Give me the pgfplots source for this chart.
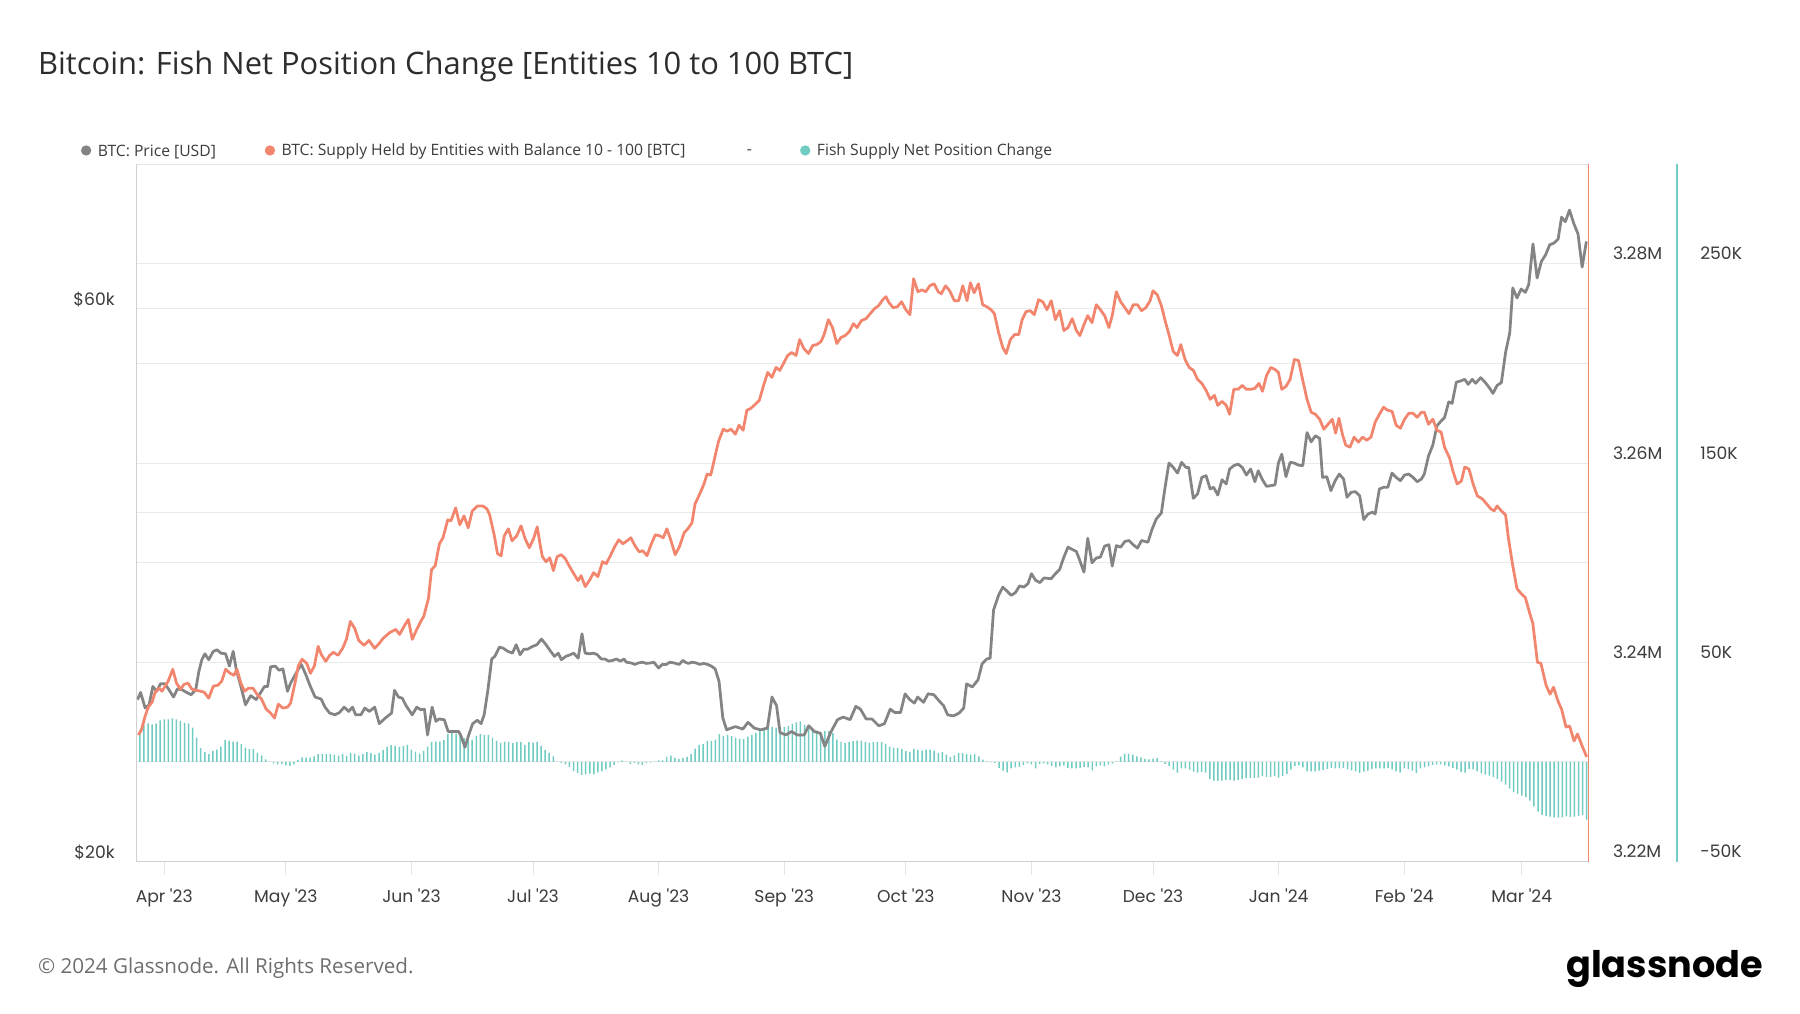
\documentclass[border=0pt]{standalone}
\usepackage{fontspec}
\setmainfont{Open Sans}
\newfontfamily\tickfont{Poppins}
\newfontfamily\logofont{Poppins}
\usepackage{pgfplots}
\pgfplotsset{compat=1.18}
\definecolor{pricegray}{RGB}{132,132,132}
\definecolor{supplyorange}{RGB}{242,133,110}
\definecolor{fishteal}{RGB}{112,204,194}
\definecolor{gridcol}{RGB}{234,234,234}
\definecolor{bordercol}{RGB}{208,208,208}
\definecolor{topcol}{RGB}{228,228,228}
\definecolor{titlecol}{RGB}{45,45,45}
\definecolor{tickcol}{RGB}{60,60,60}
\definecolor{footcol}{RGB}{110,110,110}
\pgfplotsset{
  base/.style={scale only axis, width=1264bp, height=607bp, xmin=-6.8, xmax=351.5,
    at={(119bp,132bp)}, anchor=south west, axis line style={draw=none}},
  tickfnt/.style={font=\tickfont\fontsize{15}{18}\selectfont, text=tickcol, inner sep=0pt},
}
\begin{document}
\begin{tikzpicture}[x=1bp,y=1bp]
\path[use as bounding box, fill=white] (0,0) rectangle (1567,882);
\node[anchor=base west, inner sep=0, text=titlecol, font=\fontsize{27}{32}\selectfont] at (33,817) {Bitcoin: Fish Net Position Change [Entities 10 to 100 BTC]};
% legend
\fill[pricegray] (75,751) circle (4.5);
\node[anchor=west, inner sep=0, text=tickcol, font=\fontsize{13.7}{16}\selectfont] at (85,750) {BTC: Price [USD]};
\fill[supplyorange] (235,751) circle (4.5);
\node[anchor=west, inner sep=0, text=tickcol, font=\fontsize{13.7}{16}\selectfont] at (245,750) {BTC: Supply Held by Entities with Balance 10 - 100 [BTC]};
\node[anchor=west, inner sep=0, text=tickcol, font=\fontsize{13.7}{16}\selectfont] at (650,750) {-};
\fill[fishteal] (701,751) circle (4.5);
\node[anchor=west, inner sep=0, text=tickcol, font=\fontsize{13.7}{16}\selectfont] at (711,750) {Fish Supply Net Position Change};

% supply grid and labels
\begin{axis}[base, ymin=3.22, ymax=3.29,
  ytick={3.22,3.23,3.24,3.25,3.26,3.27,3.28},
  yticklabels={3.22M,,3.24M,,3.26M,,3.28M},
  ymajorgrids, grid style={gridcol, line width=1bp},
  xtick=\empty, yticklabel pos=right, ytick style={draw=none},
  yticklabel style={tickfnt, anchor=west, xshift=21bp, yshift=9bp}]
\end{axis}

% price grid, labels, x axis
\begin{axis}[base, ymode=log, ymin=20000, ymax=80000,
  ytick={20000,40000,60000}, yticklabels={\$20k,,\$60k},
  ymajorgrids, grid style={gridcol, line width=1bp},
  ytick style={draw=none},
  yticklabel style={tickfnt, anchor=east, xshift=-19bp, yshift=8bp},
  xtick={0,30,61,91,122,153,183,214,244,275,306,335},
  xticklabels={Apr \textquotesingle23,May \textquotesingle23,Jun \textquotesingle23,Jul \textquotesingle23,Aug \textquotesingle23,Sep \textquotesingle23,Oct \textquotesingle23,Nov \textquotesingle23,Dec \textquotesingle23,Jan \textquotesingle24,Feb \textquotesingle24,Mar \textquotesingle24},
  xtick pos=bottom, xtick align=outside, major tick length=12bp,
  xtick style={draw=topcol, line width=0.8bp},
  xticklabel style={tickfnt, anchor=base, yshift=-24bp}]
\end{axis}

% fish net position change bars
\begin{axis}[base, ymin=-50, ymax=300,
  ytick={-50,50,150,250}, yticklabels={-50K,50K,150K,250K},
  yticklabel pos=right, ytick style={draw=none}, xtick=\empty,
  yticklabel style={tickfnt, anchor=west, xshift=97bp, yshift=9bp}]
\addplot[ybar, bar width=1.3bp, fill=fishteal, draw=none] table {
-6 15.9
-5 18.6
-4 19.3
-3 18.9
-2 19.3
-1 20.9
0 21.4
1 21.4
2 21.8
3 21.3
4 20.6
5 19.6
6 19.3
7 17.2
8 12.2
9 6.9
10 4.9
11 3.9
12 5.5
13 6.2
14 7.7
15 10.9
16 10.5
17 10.2
18 10.2
19 8.9
20 7.2
21 6.4
22 6.4
23 4.7
24 3.3
25 1.3
26 0.2
27 -0.8
28 -1.2
29 -1.0
30 -1.8
31 -2.0
32 -1.3
33 1.0
34 2.3
35 2.2
36 2.2
37 2.8
38 3.9
39 4.0
40 3.9
41 4.0
42 3.7
43 3.2
44 3.9
45 3.2
46 4.5
47 4.2
48 3.2
49 3.9
50 4.9
51 4.4
52 3.7
53 4.4
54 5.9
55 7.5
56 8.4
57 8.0
58 7.5
59 8.0
60 8.5
61 6.2
62 5.2
63 4.2
64 5.5
65 7.7
66 10.0
67 10.2
68 10.2
69 10.9
70 13.9
71 14.6
72 14.2
73 14.4
74 11.9
75 11.7
76 11.0
77 13.1
78 13.9
79 13.6
80 13.6
81 12.2
82 10.5
83 9.5
84 10.2
85 10.0
86 9.4
87 9.9
88 9.9
89 8.4
90 9.9
91 9.7
92 10.0
93 8.0
94 5.9
95 4.5
96 2.8
97 0.1
98 -0.5
99 -1.2
100 -2.5
101 -4.5
102 -5.5
103 -6.5
104 -6.2
105 -5.9
106 -6.2
107 -5.2
108 -4.7
109 -3.7
110 -2.8
111 -1.5
112 -0.2
113 0.7
114 0.1
115 -1.0
116 -0.5
117 -1.3
118 -1.5
119 -0.5
120 -0.3
121 0.2
122 0.8
123 0.8
124 2.5
125 3.2
126 2.0
127 1.5
128 2.0
129 2.5
130 3.9
131 6.7
132 8.4
133 8.9
134 10.5
135 10.5
136 11.2
137 13.9
138 13.1
139 13.6
140 12.9
141 12.1
142 11.6
143 11.4
144 12.7
145 13.6
146 14.6
147 15.4
148 16.4
149 17.6
150 17.6
151 17.2
152 17.2
153 17.6
154 17.9
155 19.1
156 19.9
157 20.4
158 18.7
159 16.7
160 16.1
161 15.7
162 14.9
163 15.4
164 15.4
165 14.4
166 11.2
167 10.0
168 9.4
169 9.9
170 10.4
171 10.7
172 10.7
173 10.0
174 9.7
175 9.9
176 10.0
177 9.9
178 9.0
179 7.7
180 7.0
181 7.0
182 6.5
183 5.4
184 5.0
185 6.5
186 6.0
187 5.7
188 6.2
189 6.2
190 5.7
191 4.5
192 4.9
193 3.7
194 2.5
195 3.3
196 4.4
197 4.4
198 4.0
199 3.7
200 3.9
201 2.8
202 1.2
203 0.3
204 -0.2
205 -0.5
206 -3.0
207 -4.4
208 -5.2
209 -3.3
210 -2.8
211 -2.5
212 -1.5
213 -0.8
214 -1.3
215 -3.2
216 -1.0
217 -0.8
218 -1.2
219 -2.0
220 -2.8
221 -2.3
222 -1.7
223 -3.0
224 -3.3
225 -3.3
226 -3.0
227 -2.5
228 -2.7
229 -4.2
230 -2.2
231 -1.7
232 -2.2
233 -1.3
234 -0.7
235 0.3
236 2.7
237 4.0
238 4.0
239 3.7
240 2.8
241 2.3
242 1.5
243 1.3
244 1.7
245 2.0
246 0.3
247 -1.0
248 -2.0
249 -3.9
250 -5.4
251 -3.2
252 -3.2
253 -3.9
254 -4.9
255 -5.4
256 -5.0
257 -5.4
258 -8.7
259 -9.4
260 -9.5
261 -9.4
262 -9.0
263 -9.2
264 -9.4
265 -9.0
266 -8.5
267 -8.0
268 -8.0
269 -8.0
270 -7.9
271 -7.2
272 -7.5
273 -7.5
274 -7.2
275 -7.9
276 -7.0
277 -6.0
278 -3.9
279 -2.0
280 -1.7
281 -2.7
282 -4.7
283 -4.7
284 -4.7
285 -4.4
286 -4.0
287 -3.5
288 -3.0
289 -3.3
290 -3.2
291 -3.0
292 -3.7
293 -4.2
294 -4.7
295 -5.5
296 -4.9
297 -4.4
298 -3.5
299 -3.2
300 -3.3
301 -3.3
302 -3.0
303 -3.7
304 -4.7
305 -5.4
306 -3.3
307 -3.5
308 -4.4
309 -5.5
310 -3.3
311 -2.7
312 -2.2
313 -1.5
314 -1.2
315 -1.2
316 -1.7
317 -2.2
318 -3.0
319 -3.9
320 -5.0
321 -5.4
322 -3.5
323 -3.7
324 -4.7
325 -5.7
326 -6.4
327 -6.9
328 -7.5
329 -8.7
330 -9.9
331 -11.4
332 -13.4
333 -15.2
334 -16.1
335 -16.9
336 -17.7
337 -19.4
338 -22.3
339 -24.9
340 -26.6
341 -27.1
342 -27.5
343 -27.8
344 -28.0
345 -27.8
346 -27.3
347 -27.6
348 -27.5
349 -27.1
350 -26.6
351 -29.0
};
\end{axis}

% BTC price
\begin{axis}[base, hide axis, ymode=log, ymin=20000, ymax=80000]
\addplot[pricegray, line width=2.4bp, line join=round, mark=none] coordinates {
(-6.58,27590) (-5.84,27990) (-4.71,27130) (-3.74,27310) (-2.81,28320) (-1.87,28050) (-0.94,28470) (0.20,28470) (1.16,28140) (2.30,27730) (3.23,28180) (4.37,28140) (5.50,27990) (6.63,27860) (7.77,28140) (8.50,29130) (9.27,29870) (10.03,30220) (10.97,29870) (12.10,30370) (13.04,30460) (14.00,30260) (15.14,30220) (16.07,29490) (17.01,30370) (17.77,29290) (18.91,28320) (20.04,27310) (21.34,27810) (22.68,27590) (23.81,27990) (24.74,28320) (25.51,28320) (26.25,29450) (27.38,29490) (28.34,29250) (29.28,29330) (30.41,28050) (31.18,28510) (32.31,28990) (33.05,29290) (33.82,29590) (34.95,28990) (35.88,28420) (37.22,27730) (38.72,27620) (39.68,27180) (40.82,26860) (42.12,26770) (43.25,26890) (44.39,27180) (45.52,26950) (46.46,27180) (47.22,26770) (48.53,26770) (49.49,27130) (50.62,26950) (51.93,27180) (53.06,26300) (54.56,26600) (56.09,26860) (56.83,28100) (57.80,27730) (58.73,27670) (59.67,27260) (61.20,26770) (62.30,27180) (63.27,27040) (64.20,27070) (64.97,25720) (66.10,27180) (67.04,26420) (67.80,26550) (69.10,26510) (70.07,25890) (71.37,25890) (72.70,25890) (73.27,25640) (74.21,25100) (75.14,25720) (76.11,26300) (77.24,26480) (78.18,26300) (78.94,26770) (79.88,28140) (80.81,29910) (81.58,30070) (82.71,30630) (83.65,30560) (84.78,30370) (85.91,30260) (86.85,30770) (87.81,30170) (88.75,30500) (89.68,30500) (90.82,30660) (91.95,30770) (93.08,31120) (94.22,30770) (95.35,30370) (96.29,30070) (97.25,30260) (97.99,29870) (99.12,30070) (100.26,30170) (101.02,30260) (102.15,29960) (103.09,31450) (103.85,30260) (104.99,30220) (105.92,30260) (106.86,30170) (107.82,29910) (108.76,29910) (109.69,29780) (110.66,29830) (111.59,29910) (112.53,29780) (113.46,29910) (114.03,29720) (115.19,29680) (116.13,29590) (117.06,29680) (118.00,29720) (118.96,29650) (120.07,29680) (120.83,29720) (121.97,29380) (122.90,29590) (123.87,29590) (124.80,29720) (125.77,29680) (127.07,29590) (128.00,29830) (128.57,29720) (129.34,29650) (130.27,29720) (131.24,29680) (132.17,29590) (133.11,29650) (134.07,29590) (135.01,29490) (135.94,29330) (136.90,28610) (137.84,26600) (138.78,25980) (139.23,26020) (140.93,26150) (142.77,26020) (144.05,26370) (145.61,26070) (147.17,25980) (148.84,26070) (149.97,27730) (151.10,27260) (151.96,25840) (153.37,25720) (154.79,25890) (156.21,25720) (157.91,25720) (159.04,26190) (160.46,25890) (161.88,25810) (163.01,25140) (164.43,25840) (166.13,26510) (167.55,26650) (169.25,26510) (170.66,27220) (171.80,27070) (173.21,26550) (174.63,26550) (176.33,26190) (177.72,26300) (179.14,27070) (180.27,26890) (181.69,26890) (182.82,27910) (183.96,27590) (185.09,27400) (185.94,27730) (187.36,27440) (188.49,27910) (189.91,27860) (191.33,27490) (192.32,27260) (193.31,26770) (194.73,26710) (196.15,26860) (197.28,27130) (197.99,28470) (199.40,28290) (200.82,28700) (201.81,29620) (202.95,29910) (203.80,29960) (204.65,32980) (205.89,33950) (206.92,34510) (207.97,34230) (209.01,33950) (210.03,34130) (211.08,34590) (212.13,34510) (213.15,34750) (214.00,35440) (215.02,34980) (216.07,34820) (217.09,35140) (218.88,35090) (219.90,35440) (220.95,35740) (222.00,36630) (223.02,37360) (224.06,37190) (225.09,37040) (225.94,36380) (226.96,35550) (227.89,38030) (228.94,36220) (229.99,36560) (231.01,36630) (232.06,37440) (233.11,37540) (233.93,35980) (234.95,37480) (236.00,37360) (237.05,37780) (238.07,37860) (239.12,37540) (240.16,37290) (241.18,37860) (242.74,37730) (243.79,38740) (244.81,39520) (246.06,39990) (246.91,41940) (247.93,44160) (248.98,43780) (250.03,43290) (251.05,44220) (252.10,43780) (252.81,43780) (253.94,41170) (254.99,41530) (256.04,42920) (257.09,43060) (258.11,41940) (258.96,42080) (259.98,41440) (261.03,42720) (262.05,42360) (262.90,43640) (263.92,43930) (264.97,44070) (266.02,43780) (267.04,43120) (268.09,43640) (269.13,42550) (269.96,43490) (271.00,42720) (272.02,42160) (273.07,42220) (274.09,42280) (274.94,44160) (275.77,44950) (276.81,42980) (277.83,44220) (278.88,44160) (279.90,43980) (280.95,43930) (282.00,46920) (283.02,46060) (284.07,46620) (285.12,46370) (285.83,42920) (286.88,42980) (287.90,41800) (288.95,42640) (289.97,43200) (291.02,42780) (291.87,41260) (292.89,41660) (293.93,41720) (294.98,41390) (296.00,39470) (297.05,39910) (298.10,40050) (298.81,39910) (299.86,41940) (300.88,42080) (301.93,42080) (302.98,43290) (303.99,42920) (305.04,42640) (306.07,43120) (307.12,43200) (308.16,42920) (309.18,42550) (310.23,42780) (310.94,43200) (311.99,44800) (313.04,45760) (314.06,47550) (315.11,48020) (315.93,48340) (316.98,49870) (317.80,49730) (318.85,51870) (319.87,51980) (320.92,52160) (321.74,51640) (322.79,52160) (323.61,51750) (324.86,52330) (325.91,51870) (326.96,51300) (327.89,50720) (328.91,51530) (329.96,51820) (331.01,55060) (332.03,57200) (332.77,62550) (333.82,61320) (334.84,62420) (335.88,62010) (336.71,62960) (337.76,68280) (338.78,63800) (339.83,65930) (340.87,66810) (341.89,68160) (342.91,68380) (343.96,68920) (344.81,72000) (345.75,71370) (346.77,73040) (347.82,71120) (348.87,69650) (349.89,65200) (350.94,68610)
};
\end{axis}

% supply held 10-100 BTC
\begin{axis}[base, hide axis, ymin=3.22, ymax=3.29]
\addplot[supplyorange, line width=2.4bp, line join=round, mark=none] coordinates {
(-6.41,3.2327) (-5.64,3.2332) (-4.71,3.2346) (-3.94,3.2355) (-3.00,3.2360) (-2.24,3.2370) (-1.30,3.2374) (-0.54,3.2371) (0.20,3.2376) (0.96,3.2381) (2.10,3.2393) (3.03,3.2379) (4.00,3.2373) (4.93,3.2378) (5.87,3.2379) (6.83,3.2373) (7.77,3.2372) (8.90,3.2371) (9.84,3.2370) (10.97,3.2364) (12.10,3.2376) (13.24,3.2377) (14.17,3.2381) (15.14,3.2393) (16.24,3.2389) (17.21,3.2387) (17.94,3.2393) (18.91,3.2379) (19.84,3.2371) (20.78,3.2374) (21.91,3.2374) (22.87,3.2368) (24.01,3.2363) (25.14,3.2353) (26.25,3.2349) (27.21,3.2344) (28.15,3.2358) (29.28,3.2354) (30.41,3.2355) (31.18,3.2359) (32.31,3.2380) (33.05,3.2396) (34.01,3.2403) (35.15,3.2399) (36.08,3.2389) (37.02,3.2396) (37.98,3.2416) (38.72,3.2408) (39.85,3.2401) (40.82,3.2407) (41.75,3.2410) (42.89,3.2407) (44.02,3.2414) (44.95,3.2423) (45.92,3.2441) (47.00,3.2434) (47.99,3.2422) (49.29,3.2417) (50.51,3.2422) (51.93,3.2414) (53.06,3.2419) (54.00,3.2424) (55.70,3.2430) (57.12,3.2433) (58.08,3.2428) (59.30,3.2437) (60.23,3.2443) (61.20,3.2423) (62.30,3.2433) (63.43,3.2442) (64.03,3.2446) (65.19,3.2464) (65.96,3.2493) (66.87,3.2497) (67.91,3.2519) (68.79,3.2525) (69.95,3.2543) (70.75,3.2542) (71.91,3.2555) (72.93,3.2538) (73.98,3.2547) (75.00,3.2535) (76.02,3.2552) (77.32,3.2557) (78.60,3.2557) (79.65,3.2554) (80.30,3.2548) (81.46,3.2527) (82.23,3.2509) (83.13,3.2507) (83.90,3.2527) (84.92,3.2534) (85.83,3.2522) (86.99,3.2527) (88.04,3.2537) (89.06,3.2524) (90.08,3.2515) (91.13,3.2524) (92.04,3.2536) (92.80,3.2517) (93.31,3.2506) (94.22,3.2501) (95.12,3.2505) (96.03,3.2492) (96.94,3.2506) (97.96,3.2508) (98.98,3.2504) (100.03,3.2496) (101.05,3.2489) (102.10,3.2482) (102.86,3.2487) (103.88,3.2476) (105.05,3.2483) (105.95,3.2490) (107.00,3.2486) (108.16,3.2501) (109.07,3.2499) (110.09,3.2507) (111.14,3.2516) (112.16,3.2523) (113.18,3.2519) (114.23,3.2522) (115.14,3.2525) (116.16,3.2517) (117.18,3.2511) (118.08,3.2512) (119.13,3.2507) (120.01,3.2517) (121.17,3.2528) (122.22,3.2527) (123.13,3.2525) (124.04,3.2534) (125.06,3.2522) (126.08,3.2508) (127.13,3.2516) (128.29,3.2530) (129.20,3.2534) (130.22,3.2540) (130.98,3.2559) (132.14,3.2569) (133.19,3.2579) (133.96,3.2589) (134.86,3.2588) (135.77,3.2604) (136.79,3.2622) (137.95,3.2634) (138.86,3.2632) (139.88,3.2634) (140.93,3.2629) (141.84,3.2638) (142.86,3.2633) (143.76,3.2653) (144.78,3.2655) (145.83,3.2659) (146.85,3.2663) (147.90,3.2678) (148.92,3.2691) (149.94,3.2686) (150.99,3.2696) (151.90,3.2693) (152.81,3.2700) (153.83,3.2708) (154.85,3.2711) (155.90,3.2708) (156.80,3.2724) (157.82,3.2715) (158.99,3.2710) (160.00,3.2718) (161.05,3.2719) (162.07,3.2722) (162.84,3.2729) (163.89,3.2744) (164.91,3.2736) (165.96,3.2720) (166.98,3.2726) (168.03,3.2728) (169.05,3.2732) (170.07,3.2740) (170.97,3.2736) (172.02,3.2743) (173.19,3.2745) (174.21,3.2750) (175.26,3.2755) (176.28,3.2758) (177.30,3.2764) (178.09,3.2767) (178.85,3.2761) (179.88,3.2756) (180.92,3.2757) (181.94,3.2762) (182.99,3.2754) (184.01,3.2749) (184.92,3.2785) (185.97,3.2772) (186.99,3.2774) (187.90,3.2772) (188.92,3.2778) (189.97,3.2780) (190.99,3.2772) (191.75,3.2770) (192.80,3.2778) (193.82,3.2773) (194.98,3.2763) (196.03,3.2763) (197.05,3.2778) (198.10,3.2763) (198.92,3.2781) (199.86,3.2771) (200.91,3.2780) (201.96,3.2759) (202.97,3.2757) (204.02,3.2754) (204.85,3.2750) (205.89,3.2731) (206.92,3.2716) (207.77,3.2710) (208.79,3.2724) (209.84,3.2729) (210.86,3.2729) (211.71,3.2744) (212.64,3.2752) (213.69,3.2753) (214.71,3.2749) (215.76,3.2764) (216.78,3.2762) (217.83,3.2754) (218.88,3.2763) (219.90,3.2744) (220.95,3.2753) (222.00,3.2733) (223.02,3.2736) (224.06,3.2745) (225.09,3.2733) (225.94,3.2728) (226.96,3.2739) (227.89,3.2748) (228.94,3.2741) (229.99,3.2759) (231.01,3.2754) (232.06,3.2748) (233.11,3.2736) (233.93,3.2748) (234.95,3.2772) (236.00,3.2762) (237.05,3.2756) (238.07,3.2750) (239.12,3.2759) (240.16,3.2759) (241.18,3.2753) (242.23,3.2756) (243.28,3.2763) (243.99,3.2773) (245.04,3.2769) (246.06,3.2758) (247.11,3.2741) (247.93,3.2729) (248.98,3.2712) (250.03,3.2708) (250.85,3.2719) (251.90,3.2704) (252.92,3.2696) (253.97,3.2693) (254.99,3.2684) (256.04,3.2680) (257.09,3.2673) (258.11,3.2664) (259.16,3.2668) (259.98,3.2658) (261.03,3.2662) (262.05,3.2658) (262.90,3.2649) (263.92,3.2674) (264.97,3.2674) (266.02,3.2678) (267.04,3.2674) (268.09,3.2674) (269.13,3.2675) (270.15,3.2680) (271.00,3.2672) (272.02,3.2688) (273.07,3.2696) (274.09,3.2694) (274.94,3.2691) (275.77,3.2674) (276.81,3.2677) (277.83,3.2684) (278.88,3.2704) (279.90,3.2703) (280.95,3.2683) (282.00,3.2664) (283.02,3.2651) (284.07,3.2649) (285.12,3.2644) (286.14,3.2634) (287.19,3.2639) (288.24,3.2644) (289.06,3.2630) (289.88,3.2645) (290.73,3.2629) (291.55,3.2618) (292.60,3.2616) (293.62,3.2626) (294.67,3.2621) (295.69,3.2626) (296.74,3.2623) (297.79,3.2626) (298.81,3.2641) (299.86,3.2649) (300.88,3.2656) (301.93,3.2653) (302.98,3.2652) (303.99,3.2638) (305.04,3.2635) (306.07,3.2644) (307.12,3.2650) (308.16,3.2650) (309.18,3.2646) (310.23,3.2651) (310.94,3.2651) (311.99,3.2639) (313.04,3.2644) (314.06,3.2633) (315.11,3.2631) (315.93,3.2616) (317.18,3.2605) (318.00,3.2592) (319.05,3.2579) (320.10,3.2582) (320.92,3.2596) (321.97,3.2594) (322.99,3.2579) (324.04,3.2567) (325.28,3.2564) (326.33,3.2559) (327.35,3.2554) (328.20,3.2552) (328.91,3.2557) (329.96,3.2552) (331.00,3.2548) (331.72,3.2524) (332.77,3.2497) (333.81,3.2474) (334.83,3.2469) (335.88,3.2465) (336.90,3.2450) (337.73,3.2439) (338.86,3.2400) (339.71,3.2399) (340.99,3.2377) (341.98,3.2368) (342.83,3.2375) (343.94,3.2361) (344.81,3.2353) (345.92,3.2335) (346.80,3.2336) (347.90,3.2321) (348.75,3.2328) (349.89,3.2316) (351.02,3.2305)
};
\end{axis}

% frame
\draw[topcol, line width=1.2bp] (119,739) -- (1383,739);
\draw[bordercol, line width=1.5bp] (119,132) -- (1383,132);
\draw[bordercol, line width=1.2bp] (119,132) -- (119,739);
\draw[supplyorange, line width=1.3bp] (1383,132) -- (1383,739);
\draw[fishteal, line width=1.3bp] (1460,132) -- (1460,739);

% footer
\node[anchor=west, inner sep=0, text=footcol, font=\fontsize{18}{21}\selectfont] at (33,39) {© 2024 Glassnode. All Rights Reserved.};
\node[anchor=base east, inner sep=0, text=black, font=\logofont\bfseries\fontsize{32}{38}\selectfont] at (1535,31) {glassnode};
\end{tikzpicture}
\end{document}
